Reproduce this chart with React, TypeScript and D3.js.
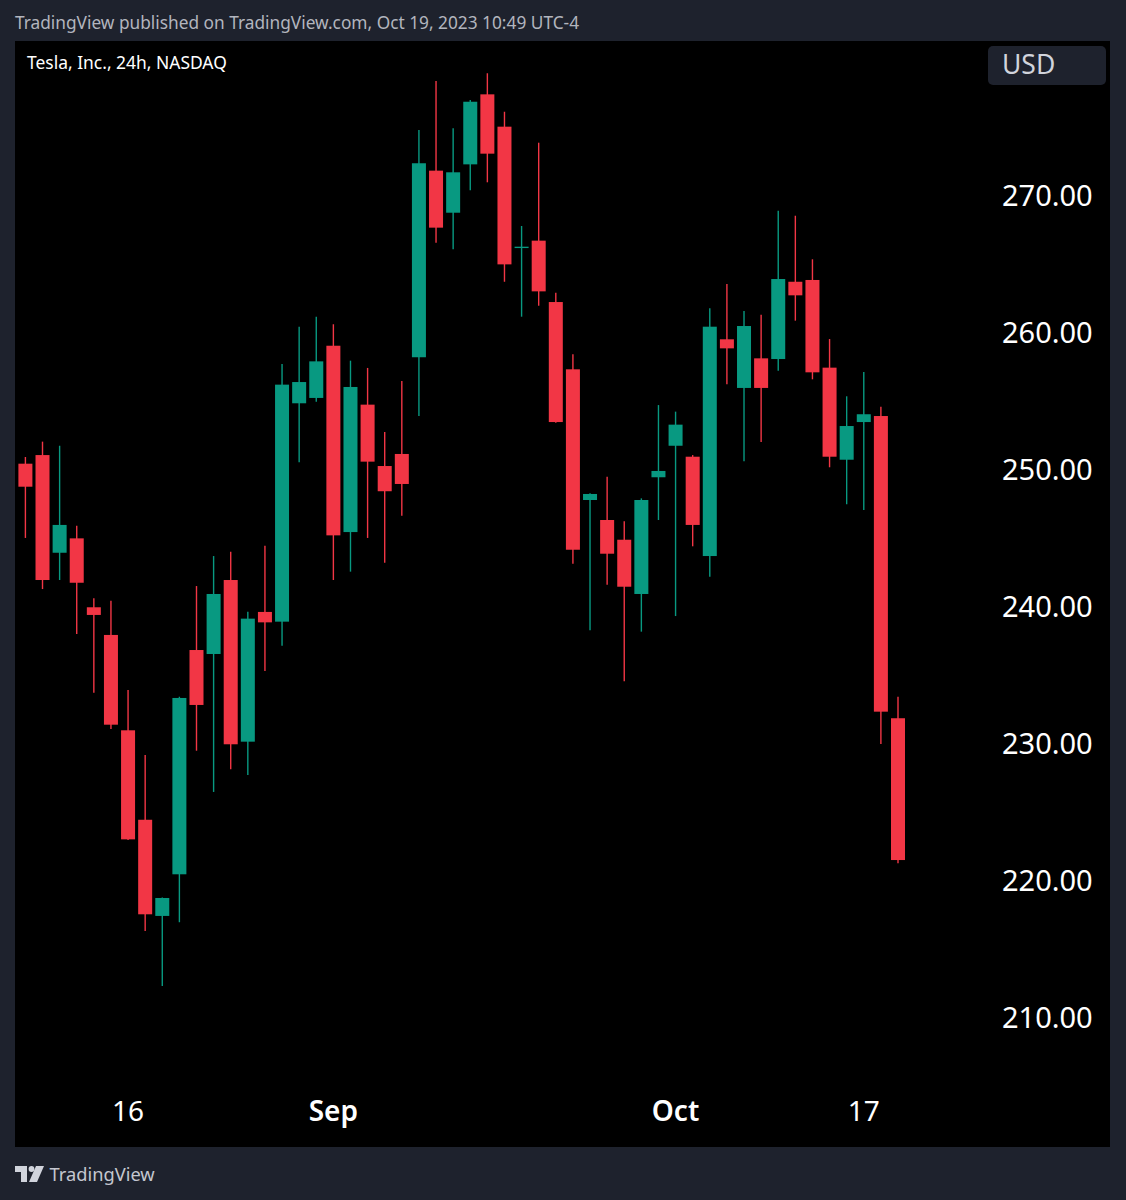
import React, { useEffect, useRef } from "react";
import * as d3 from "d3";

const opens = [250.46, 251.09, 243.96, 245.01, 239.98, 237.96, 231.0, 224.47, 217.45, 220.49, 236.86, 236.57, 241.97, 230.17, 239.64, 238.93, 254.87, 255.26, 259.07, 245.47, 254.77, 250.29, 251.17, 258.23, 271.85, 268.78, 272.31, 277.42, 275.06, 266.2, 266.74, 262.26, 257.35, 247.81, 246.35, 244.91, 240.95, 249.47, 251.77, 250.97, 243.72, 259.54, 255.99, 258.15, 258.1, 263.74, 263.87, 257.47, 250.75, 253.5, 253.94, 231.88];
const highs = [250.95, 252.07, 251.77, 245.93, 240.64, 240.46, 233.94, 229.2, 218.8, 233.45, 241.53, 243.72, 244.04, 239.66, 244.47, 257.74, 260.46, 261.19, 260.64, 257.98, 257.45, 252.77, 256.5, 274.82, 278.39, 274.94, 277.01, 278.96, 276.15, 267.81, 273.89, 262.94, 258.45, 248.3, 249.51, 246.26, 247.93, 254.74, 254.26, 251.09, 261.8, 263.58, 261.61, 261.34, 268.93, 268.56, 265.38, 259.56, 255.38, 257.15, 254.62, 233.45];
const lows = [245.04, 241.31, 241.97, 238.03, 233.74, 231.09, 223.0, 216.35, 212.34, 216.99, 229.51, 226.5, 228.15, 227.74, 235.33, 237.18, 250.56, 254.99, 241.97, 242.58, 245.04, 243.23, 246.66, 253.94, 266.59, 266.11, 270.42, 271.0, 263.74, 261.19, 261.99, 253.45, 243.16, 238.3, 241.63, 234.58, 238.2, 246.35, 239.34, 244.43, 242.21, 256.26, 250.64, 252.04, 257.25, 260.9, 256.62, 250.2, 247.5, 247.08, 230.0, 221.29];
const closes = [248.78, 241.97, 245.99, 241.77, 239.42, 231.41, 223.04, 217.57, 218.76, 233.36, 232.85, 240.95, 229.98, 239.15, 238.88, 256.23, 256.42, 257.93, 245.23, 256.06, 250.61, 248.45, 248.98, 272.39, 267.69, 271.73, 276.88, 273.09, 265.01, 266.3, 263.04, 253.5, 244.18, 248.25, 243.89, 241.48, 247.81, 249.93, 253.31, 245.99, 260.46, 258.88, 260.51, 255.99, 263.94, 262.75, 257.13, 250.97, 253.21, 254.07, 232.36, 221.53];

const priceTicks = [210, 220, 230, 240, 250, 260, 270];
const timeTickIndex = [6, 18, 38, 49];
const timeTickLabels = ["16", "Sep", "Oct", "17"];
const boldTimeTicks = ["Sep", "Oct"];

const UP = "#089981";
const DOWN = "#f23645";
const FONT = "'Noto Sans', sans-serif";

const App: React.FC = () => {
  const svgRef = useRef<SVGSVGElement>(null);

  useEffect(() => {
    const width = 1126;
    const height = 1200;
    const panel = { left: 15, top: 41, right: 1110, bottom: 1147 };
    const bodyWidth = 14;

    const x = d3.scaleLinear().domain([0, opens.length - 1]).range([25.4, 898]);
    const y = d3.scaleLinear().domain([210, 270]).range([1018, 196]);

    const svg = d3.select(svgRef.current);
    svg.selectAll("*").remove();

    svg.append("rect").attr("width", width).attr("height", height).attr("fill", "#1e222d");
    svg.append("rect")
      .attr("x", panel.left)
      .attr("y", panel.top)
      .attr("width", panel.right - panel.left)
      .attr("height", panel.bottom - panel.top)
      .attr("fill", "#000000");

    // header and title
    svg.append("text")
      .attr("x", 15).attr("y", 29)
      .attr("font-family", FONT).attr("font-size", 17.3)
      .attr("fill", "#b2b5be")
      .text("TradingView published on TradingView.com, Oct 19, 2023 10:49 UTC-4");
    svg.append("text")
      .attr("x", 27).attr("y", 69)
      .attr("font-family", FONT).attr("font-size", 17.45)
      .attr("fill", "#ffffff")
      .text("Tesla, Inc., 24h, NASDAQ");

    // currency badge
    svg.append("rect")
      .attr("x", 988).attr("y", 46)
      .attr("width", 118).attr("height", 39)
      .attr("rx", 5)
      .attr("fill", "#1e222d");
    svg.append("text")
      .attr("x", 1002).attr("y", 74)
      .attr("font-family", FONT).attr("font-size", 26.5)
      .attr("fill", "#d1d4dc")
      .text("USD");

    // candles
    const candles = svg.append("g")
      .selectAll("g")
      .data(opens.map((_, i) => i))
      .enter()
      .append("g")
      .attr("fill", i => (closes[i] >= opens[i] ? UP : DOWN))
      .attr("stroke", i => (closes[i] >= opens[i] ? UP : DOWN));

    candles.append("line")
      .attr("x1", i => x(i))
      .attr("x2", i => x(i))
      .attr("y1", i => y(highs[i]))
      .attr("y2", i => y(lows[i]))
      .attr("stroke-width", 1.4);

    candles.append("rect")
      .attr("x", i => x(i) - bodyWidth / 2)
      .attr("width", bodyWidth)
      .attr("y", i => y(Math.max(opens[i], closes[i])))
      .attr("height", i => Math.max(1, Math.abs(y(opens[i]) - y(closes[i]))))
      .attr("stroke", "none");

    // price axis
    const yAxis = svg.append("g")
      .attr("transform", "translate(1002,0.7)")
      .call(d3.axisRight(y).tickValues(priceTicks).tickFormat(d3.format(".2f")).tickSize(0).tickPadding(0));
    yAxis.select(".domain").remove();
    yAxis.selectAll("text")
      .attr("font-family", FONT)
      .attr("font-size", 29)
      .attr("fill", "#ffffff");

    // time axis
    const xAxis = svg.append("g")
      .attr("transform", "translate(-0.5,1101)")
      .call(
        d3.axisBottom(x)
          .tickValues(timeTickIndex)
          .tickFormat((_, i) => timeTickLabels[i])
          .tickSize(0)
          .tickPadding(0)
      );
    xAxis.select(".domain").remove();
    xAxis.selectAll("text")
      .attr("font-family", FONT)
      .attr("font-size", 28)
      .attr("font-weight", function () {
        return boldTimeTicks.includes(d3.select(this).text()) ? 600 : 400;
      })
      .attr("fill", "#ffffff");

    // footer logo
    const logo = svg.append("g").attr("fill", "#d1d4dc");
    logo.append("path").attr("d", "M15 1166H27V1182H21V1172H15Z");
    logo.append("circle").attr("cx", 31.5).attr("cy", 1169).attr("r", 2.9);
    logo.append("path").attr("d", "M36 1166H44L37 1182H29Z");
    svg.append("text")
      .attr("x", 49.5).attr("y", 1181)
      .attr("font-family", FONT).attr("font-size", 18.3)
      .attr("fill", "#c4c7cf")
      .text("TradingView");
  }, []);

  return (
    <svg
      ref={svgRef}
      width={1126}
      height={1200}
      style={{ position: "absolute", left: 0, top: 0 }}
    ></svg>
  );
};

export default App;
